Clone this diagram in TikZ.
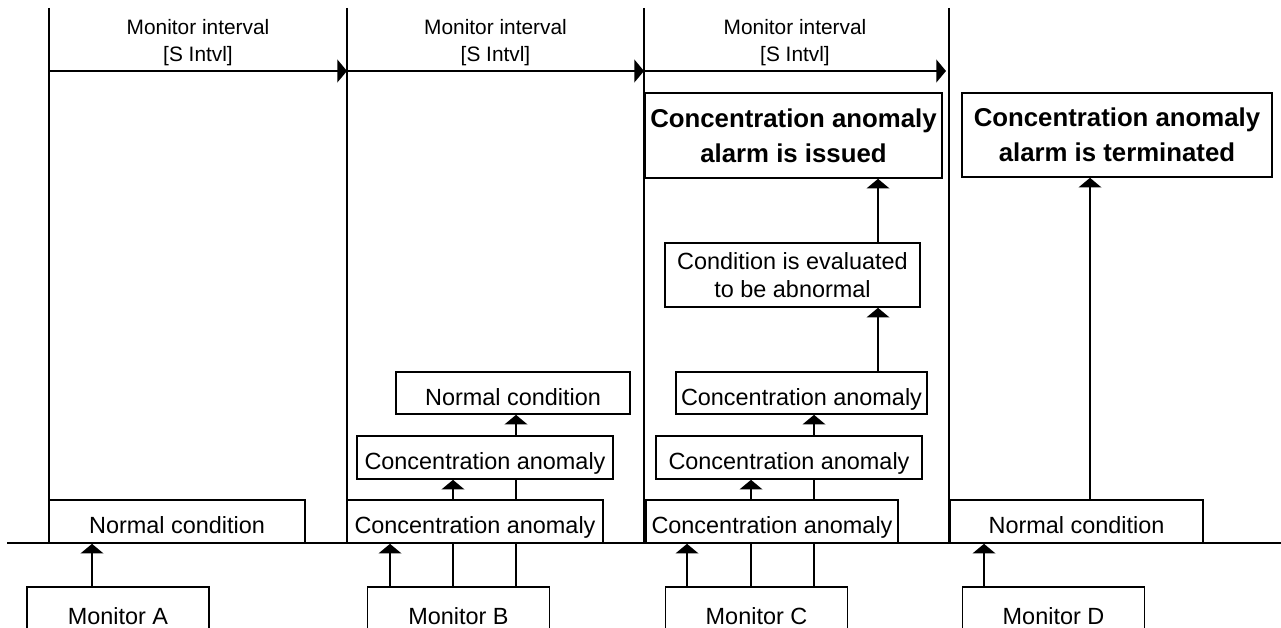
\documentclass[tikz,border=0pt]{standalone}
\usepackage{fontspec}
\setmainfont{Liberation Sans}
\usetikzlibrary{arrows.meta}

\tikzset{
  box/.style={draw, line width=1.4pt, inner sep=0pt, align=center,
    font=\fontsize{20}{24}\selectfont},
  onebox/.style={box, text height=21pt, text depth=0pt},
  bigbox/.style={box, font=\bfseries\fontsize{22}{30}\selectfont},
  arr/.style={line width=1.7pt, -{Triangle[width=0.68cm,length=0.29cm]}},
  link/.style={line width=1.7pt},
  sep/.style={line width=1.1pt},
  intlabel/.style={align=center, font=\fontsize{17.8}{23}\selectfont},
}

\begin{document}
\begin{tikzpicture}[x=0.03cm, y=-0.03cm]
        \useasboundingbox (0,0) rectangle (1281,628);

        % Interval borders and base line
        \foreach \x in {49,347,644,949}
            \draw[sep] (\x,8) -- (\x,543);
        \draw[sep] (7,543) -- (1281,543);

        % Monitor intervals
        \foreach \a/\b [count=\i] in {49/347, 347/644, 644/946} {
            \draw[arr] (\a,71) -- (\b,71);
            \node[intlabel] (int\i) at ({(\a+\b)/2},43) {Monitor interval\\{[S Intvl]}};
        }

        % Monitors
        \node[onebox, minimum width=5.46cm, minimum height=1.5cm] (monA) at (118,612) {Monitor A};
        \node[onebox, minimum width=5.46cm, minimum height=1.5cm] (monB) at (458.5,612) {Monitor B};
        \node[onebox, minimum width=5.46cm, minimum height=1.5cm] (monC) at (756.5,612) {Monitor C};
        \node[onebox, minimum width=5.46cm, minimum height=1.5cm] (monD) at (1053.5,612) {Monitor D};

        % Column A
        \node[onebox, minimum width=7.68cm, minimum height=1.29cm] (normA) at (177,521.5) {Normal condition};

        % Column B
        \node[onebox, minimum width=7.68cm, minimum height=1.29cm] (anomB1) at (475,521.5) {Concentration anomaly};
        \node[onebox, minimum width=7.68cm, minimum height=1.29cm] (anomB2) at (485,457.5) {Concentration anomaly};
        \node[onebox, minimum width=7.02cm, minimum height=1.26cm] (normB) at (513,393) {Normal condition};

        % Column C
        \node[onebox, minimum width=7.56cm, minimum height=1.29cm] (anomC1) at (772,521.5) {Concentration anomaly};
        \node[onebox, minimum width=7.98cm, minimum height=1.29cm] (anomC2) at (789,457.5) {Concentration anomaly};
        \node[onebox, minimum width=7.53cm, minimum height=1.26cm] (anomC3) at (801.5,393) {Concentration anomaly};
        \node[box, minimum width=7.65cm, minimum height=1.92cm] (evalC) at (792.5,275) {Condition is evaluated\\to be abnormal};
        \node[bigbox, minimum width=8.91cm, minimum height=2.55cm] (alarmC) at (793.5,135.5) {Concentration anomaly\\alarm is issued};

        % Column D
        \node[onebox, minimum width=7.59cm, minimum height=1.29cm] (normD) at (1076.5,521.5) {Normal condition};
        \node[bigbox, minimum width=9.3cm, minimum height=2.52cm] (termD) at (1117,135) {Concentration anomaly\\alarm is terminated};

        % Lanes for the connectors
        \coordinate (a1) at (92,0);
        \coordinate (b1) at (390,0);
        \coordinate (b2) at (453,0);
        \coordinate (b3) at (516,0);
        \coordinate (c1) at (687,0);
        \coordinate (c2) at (751,0);
        \coordinate (c3) at (814,0);
        \coordinate (c4) at (878,0);
        \coordinate (d1) at (984,0);
        \coordinate (d2) at (1090,0);

        % Connectors A
        \draw[arr] (monA.north -| a1) -- (normA.south -| a1);

        % Connectors B
        \draw[arr] (monB.north -| b1) -- (anomB1.south -| b1);
        \draw[link] (monB.north -| b2) -- (anomB1.south -| b2);
        \draw[arr] (anomB1.north -| b2) -- (anomB2.south -| b2);
        \draw[link] (monB.north -| b3) -- (anomB1.south -| b3);
        \draw[link] (anomB1.north -| b3) -- (anomB2.south -| b3);
        \draw[arr] (anomB2.north -| b3) -- (normB.south -| b3);

        % Connectors C
        \draw[arr] (monC.north -| c1) -- (anomC1.south -| c1);
        \draw[link] (monC.north -| c2) -- (anomC1.south -| c2);
        \draw[arr] (anomC1.north -| c2) -- (anomC2.south -| c2);
        \draw[link] (monC.north -| c3) -- (anomC1.south -| c3);
        \draw[link] (anomC1.north -| c3) -- (anomC2.south -| c3);
        \draw[arr] (anomC2.north -| c3) -- (anomC3.south -| c3);
        \draw[arr] (anomC3.north -| c4) -- (evalC.south -| c4);
        \draw[arr] (evalC.north -| c4) -- (alarmC.south -| c4);

        % Connectors D
        \draw[arr] (monD.north -| d1) -- (normD.south -| d1);
        \draw[arr] (normD.north -| d2) -- (termD.south -| d2);
    \end{tikzpicture}
\end{document}
